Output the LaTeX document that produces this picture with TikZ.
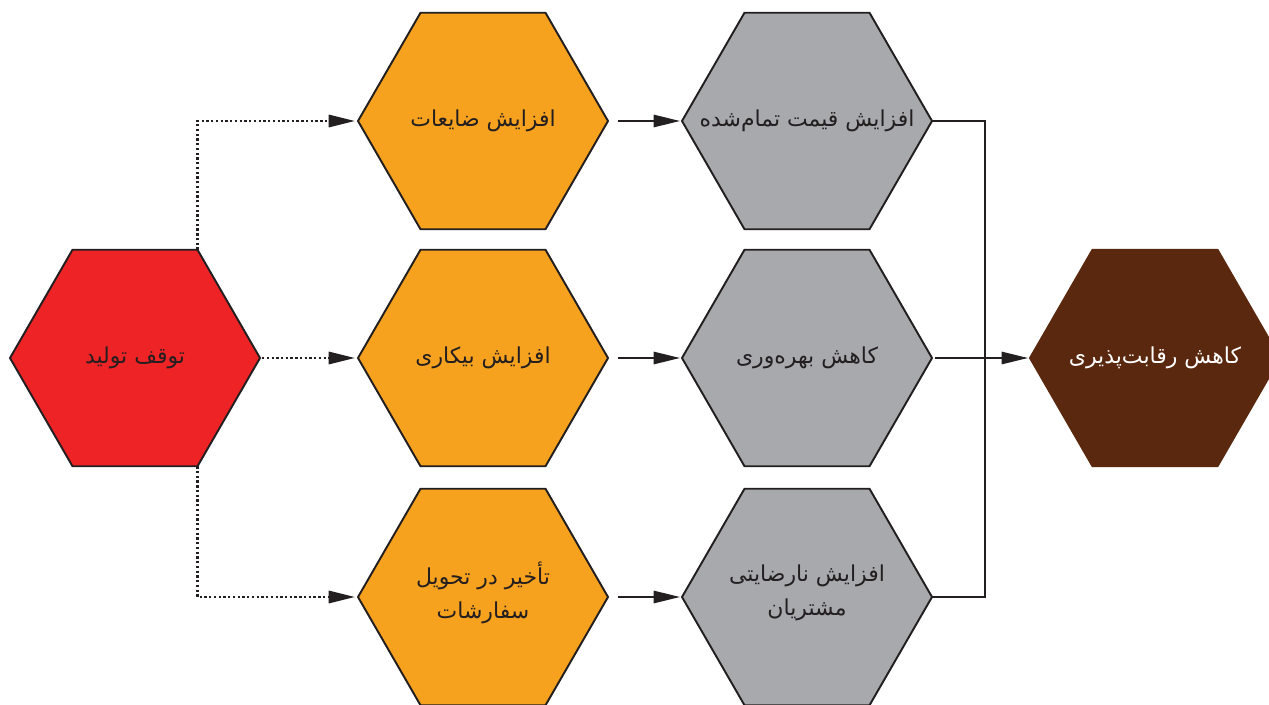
\documentclass[tikz,border=0pt]{standalone}
\usepackage{fontspec}
\newfontfamily\farsi[Script=Arabic]{DejaVu Sans}
\TeXXeTstate=1
\usetikzlibrary{shapes.geometric,arrows.meta}
\definecolor{linha}{HTML}{231F20}
\definecolor{vermelho}{HTML}{EE2326}
\definecolor{laranja}{HTML}{F7A21E}
\definecolor{cinza}{HTML}{A7A9AC}
\definecolor{marrom}{HTML}{5A280E}
\newcommand{\fa}[1]{\beginR #1\endR}

\begin{document}
\begin{tikzpicture}[scale=1.0]
\tikzset{ >={Triangle[length=15pt,width=7pt]}, inner sep=0pt, outer sep=0pt,
  hexa/.style={regular polygon, regular polygon sides=6, minimum size=5cm,
    draw=linha, line width=1.1pt},
  rotulo/.style={align=center, text=linha, font=\farsi\fontsize{12.5}{19}\selectfont},
  pontos/.style={line width=1.3pt, linha, dash pattern=on 1.3pt off 1.4pt},
  seta/.style={line width=1.1pt, linha},
}

\useasboundingbox (0,0) rectangle (25.38,14.08);

%%% Blocos

% causa
\node [hexa, fill=vermelho] (parada) at (2.70,6.92) {};
\node [rotulo] (paradaT) at (parada) {\fa{توقف تولید}};

% efeitos diretos
\node [hexa, fill=laranja] (perdas)  at (9.66,11.66) {};
\node [hexa, fill=laranja] (ocioso)  at (9.66,6.92)  {};
\node [hexa, fill=laranja] (atraso)  at (9.66,2.14)  {};
\node [rotulo] (perdasT) at (perdas) {\fa{افزایش ضایعات}};
\node [rotulo] (ociosoT) at (ocioso) {\fa{افزایش بیکاری}};
\node [rotulo] (atrasoT) at ([yshift=0.08cm]atraso.center) {\fa{تأخیر در تحویل}\\\fa{سفارشات}};

% efeitos indiretos
\node [hexa, fill=cinza] (custo)     at (16.14,11.66) {};
\node [hexa, fill=cinza] (produt)    at (16.14,6.92)  {};
\node [hexa, fill=cinza] (clientes)  at (16.14,2.14)  {};
\node [rotulo] (custoT)    at (custo)    {\fa{افزایش قیمت تمام‌شده}};
\node [rotulo] (produtT)   at (produt)   {\fa{کاهش بهره‌وری}};
\node [rotulo] (clientesT) at ([yshift=0.08cm]clientes.center) {\fa{افزایش نارضایتی}\\\fa{مشتریان}};

% resultado
\node [hexa, fill=marrom, draw=marrom] (compet) at (23.10,6.92) {};
\node [rotulo, text=white] (competT) at (compet) {\fa{کاهش رقابت‌پذیری}};

%%% Linhas

% parada -> efeitos diretos
\draw [->, pontos, shorten >=0.06cm] (parada.60) |- (perdas.west);
\draw [->, pontos, shorten <=0.04cm, shorten >=0.06cm] (parada.east) -- (ocioso.west);
\draw [->, pontos, shorten >=0.06cm] (parada.-60) |- (atraso.west);

% efeitos diretos -> indiretos
\draw [->, seta, shorten <=0.2cm, shorten >=0.04cm] (perdas.east) -- (custo.west);
\draw [->, seta, shorten <=0.2cm, shorten >=0.04cm] (ocioso.east) -- (produt.west);
\draw [->, seta, shorten <=0.2cm, shorten >=0.04cm] (atraso.east) -- (clientes.west);

% juncao -> resultado
\coordinate (junta) at (19.70,6.92);
\draw [seta] (custo.east) -- (custo.east -| junta) -- (clientes.east -| junta) -- (clientes.east);
\draw [->, seta, shorten <=0.06cm, shorten >=0.04cm] (produt.east) -- (compet.west);

\end{tikzpicture}
\end{document}
